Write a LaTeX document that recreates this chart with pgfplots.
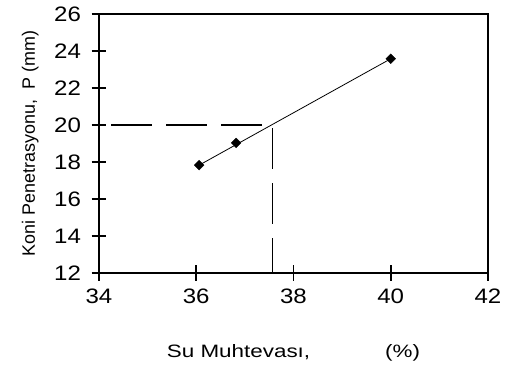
\documentclass[border=0pt]{standalone}
\usepackage{pgfplots}
\pgfplotsset{compat=1.18}
\usepackage{fontspec}
\setmainfont{Liberation Sans}
\begin{document}
\begin{tikzpicture}
\useasboundingbox (0,0) rectangle (505bp,367bp);
\begin{axis}[
  scale only axis, width=389bp, height=259bp,
  at={(99bp,94bp)}, anchor=south west,
  xmin=34, xmax=42, ymin=12, ymax=26,
  xtick={34,36,...,42}, ytick={12,14,...,26},
  xtick pos=bottom, ytick pos=left,
  tick align=center, major tick length=15bp,
  axis line style={line width=1.6bp},
  tick style={line width=1.6bp, black},
  /pgf/number format/assume math mode=true,
  ticklabel style={font=\fontsize{21}{24}\selectfont},
  xticklabel={\scalebox{1.15}[1]{\pgfmathprintnumber{\tick}}},
  yticklabel={\scalebox{1.15}[1]{\pgfmathprintnumber{\tick}}},
  yticklabel style={xshift=-7bp},
  xticklabel style={yshift=-5bp},
  ylabel={Koni Penetrasyonu,\ \ P (mm)},
  ylabel style={at={(axis description cs:-0.177,0.5)}, anchor=center, font=\fontsize{18}{20}\selectfont},
  xlabel={\scalebox{1.25}[1]{Su Muhtevası,}\hspace{75bp}\scalebox{1.25}[1]{(\%)}},
  xlabel style={at={(axis description cs:0.5,-0.309)}, anchor=center, font=\fontsize{18}{20}\selectfont},
]
\addplot[black, line width=0.8bp] coordinates {(36.06,17.83) (40.0,23.58)};
\addplot[black, only marks, mark=diamond*, mark size=6.5bp, mark options={yscale=0.75}] coordinates {(36.06,17.83) (36.82,19.03) (40.0,23.58)};
\addplot[black, line width=1.3bp, dash pattern=on 41bp off 14bp, dash phase=43bp] coordinates {(34,20) (37.57,20) (37.57,12)};
\end{axis}
\end{tikzpicture}
\end{document}
